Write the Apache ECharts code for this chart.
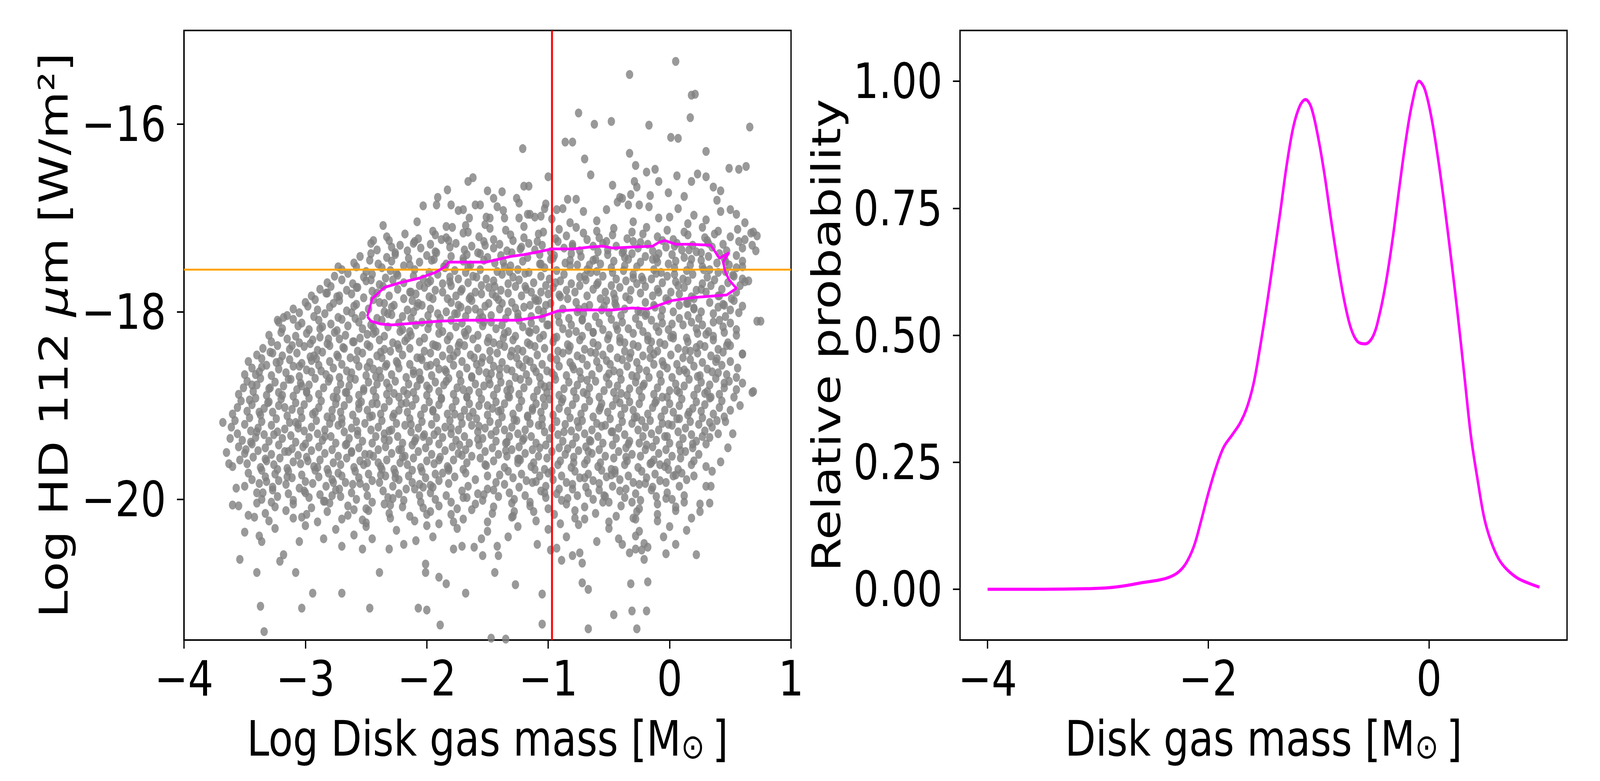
<!DOCTYPE html>
<html>
<head>
<meta charset="utf-8">
<script src="https://cdn.jsdelivr.net/npm/echarts@6/dist/echarts.min.js"></script>
<style>html,body{margin:0;padding:0;background:#fff;overflow:hidden}#wrap{width:5000px;height:2000px;transform-origin:0 0}#c{width:5000px;height:2000px}</style>
</head>
<body>
<div id="wrap"><div id="c"></div></div>
<script>
// ---- reference lines ----
const vLineX = -0.97;
const hLineY = -17.55;

// ---- scatter: sparse upper points (x, y) ----
const scatterTop = [
0.05,-15.33, -0.33,-15.47, 0.18,-15.69, 0.21,-15.68, 0.17,-15.93, -0.75,-15.88, -0.62,-16.0, -0.48,-15.97, -0.17,-16.01, 0.66,-16.03,
0.01,-16.14, 0.07,-16.15, -0.86,-16.19, -0.8,-16.19, -1.21,-16.26, -0.33,-16.31, 0.3,-16.29, -0.7,-16.37, -0.28,-16.44, 0.49,-16.47,
0.57,-16.48, 0.63,-16.45, -0.65,-16.54, -0.19,-16.51, -0.12,-16.48, 0.06,-16.55, 0.23,-16.53, 0.3,-16.56, -1.0,-16.56, -1.62,-16.57,
-1.66,-16.61, -0.09,-16.61, -0.29,-16.61, -0.27,-16.67, -0.47,-16.65, 0.18,-16.61, 0.36,-16.67, 0.42,-16.71, -1.2,-16.66, -1.16,-16.66,
-0.01,-16.73, -1.83,-16.7, 0.12,-16.77, -0.41,-16.78, -0.39,-16.79, -0.32,-16.75, 0.39,-16.81, -0.16,-16.76, -1.38,-16.72, -1.5,-16.71,
-1.45,-16.79, -1.26,-16.79, -1.24,-16.84, -1.91,-16.78, -1.92,-16.86, -2.03,-16.87, -1.8,-16.86, -1.6,-16.86, -1.56,-16.86, -1.42,-16.88,
-1.37,-16.92, -1.02,-16.85, -1.03,-16.9, -0.84,-16.8, -0.77,-16.8, -0.93,-16.91, -0.88,-16.9, -0.71,-16.93, -0.52,-16.91, -0.43,-16.83,
-0.34,-16.86, -0.25,-16.86, -0.17,-16.88, 0.07,-16.9, 0.2,-16.97, 0.5,-16.91, 0.55,-16.96, 0.42,-16.93, -0.09,-17.0, 0.0,-16.99,
-1.74,-16.92, -1.7,-16.91, -1.65,-17.0, -1.68,-17.08, -1.51,-16.99, -1.48,-17.0, -1.52,-17.07, -1.36,-17.0, -1.24,-17.0, -1.17,-16.96,
-1.15,-16.96, -1.11,-16.99, -1.06,-16.98, -0.97,-17.01, -2.08,-17.04, -1.84,-17.09, -2.36,-17.08, -2.44,-17.24, 0.3,-17.02, 0.62,-17.05,
-0.6,-17.03, -0.3,-17.04, 0.15,-17.06, -0.82,-17.05
];

// ---- scatter: dense core, read band by band (x, y) ----
const scatterCore = [
-1.95,-17.14, -1.79,-17.1, -1.66,-17.15, -1.48,-17.11, -1.35,-17.13, -1.2,-17.09, -1.04,-17.15, -0.91,-17.12, -0.77,-17.1, -0.6,-17.14, -0.46,-17.11, -0.31,-17.15, -0.19,-17.1, -0.02,-17.13, 0.12,-17.15, 0.27,-17.1, 0.4,-17.14, 0.56,-17.12, 0.67,-17.16,
-2.33,-17.2, -2.18,-17.17, -2.07,-17.22, -1.93,-17.18, -1.84,-17.21, -1.7,-17.16, -1.57,-17.2, -1.45,-17.23, -1.31,-17.18, -1.2,-17.21, -1.08,-17.17, -0.94,-17.22, -0.85,-17.19, -0.71,-17.16, -0.58,-17.21, -0.47,-17.18, -0.35,-17.22, -0.22,-17.17, -0.1,-17.2, 0.03,-17.23, 0.15,-17.18, 0.29,-17.21, 0.37,-17.17, 0.5,-17.2, 0.62,-17.23, 0.72,-17.19,
-2.46,-17.27, -2.31,-17.24, -2.22,-17.29, -2.1,-17.25, -1.97,-17.28, -1.88,-17.23, -1.76,-17.27, -1.63,-17.3, -1.53,-17.25, -1.4,-17.28, -1.29,-17.24, -1.16,-17.27, -1.05,-17.29, -0.92,-17.25, -0.8,-17.28, -0.68,-17.23, -0.55,-17.27, -0.44,-17.3, -0.3,-17.25, -0.18,-17.28, -0.06,-17.24, 0.06,-17.27, 0.19,-17.29, 0.31,-17.24, 0.44,-17.28, 0.57,-17.25, 0.68,-17.29,
-2.41,-17.34, -2.29,-17.31, -2.16,-17.35, -2.05,-17.32, -1.93,-17.36, -1.81,-17.31, -1.69,-17.34, -1.58,-17.37, -1.45,-17.32, -1.34,-17.35, -1.22,-17.31, -1.11,-17.34, -0.98,-17.36, -0.87,-17.32, -0.74,-17.35, -0.63,-17.3, -0.51,-17.34, -0.39,-17.37, -0.26,-17.32, -0.14,-17.35, -0.03,-17.31, 0.1,-17.34, 0.22,-17.36, 0.35,-17.31, 0.47,-17.35, 0.6,-17.32,
-2.55,-17.41, -2.46,-17.38, -2.33,-17.42, -2.26,-17.39, -2.15,-17.43, -2.0,-17.4, -1.92,-17.37, -1.8,-17.41, -1.7,-17.43, -1.56,-17.38, -1.5,-17.42, -1.39,-17.4, -1.3,-17.37, -1.17,-17.42, -1.07,-17.39, -0.96,-17.43, -0.81,-17.38, -0.73,-17.41, -0.61,-17.44, -0.51,-17.39, -0.37,-17.42, -0.31,-17.38, -0.2,-17.41, -0.11,-17.43, 0.02,-17.39, 0.12,-17.42, 0.26,-17.37, 0.32,-17.41, 0.45,-17.43, 0.55,-17.4,
-2.6,-17.48, -2.47,-17.45, -2.4,-17.49, -2.29,-17.46, -2.14,-17.5, -2.06,-17.47, -1.94,-17.44, -1.84,-17.49, -1.7,-17.46, -1.64,-17.5, -1.53,-17.45, -1.44,-17.48, -1.31,-17.51, -1.21,-17.46, -1.07,-17.49, -0.98,-17.44, -0.86,-17.48, -0.76,-17.5, -0.63,-17.45, -0.57,-17.49, -0.46,-17.46, -0.37,-17.51, -0.24,-17.47, -0.14,-17.44, -0.01,-17.49, 0.05,-17.46, 0.17,-17.5, 0.26,-17.45, 0.39,-17.48, 0.49,-17.5, 0.6,-17.46,
-2.7,-17.55, -2.58,-17.52, -2.5,-17.57, -2.37,-17.53, -2.3,-17.56, -2.19,-17.51, -2.1,-17.55, -1.98,-17.58, -1.85,-17.53, -1.77,-17.56, -1.66,-17.52, -1.56,-17.55, -1.42,-17.57, -1.36,-17.52, -1.25,-17.55, -1.16,-17.58, -1.03,-17.53, -0.93,-17.56, -0.82,-17.51, -0.68,-17.55, -0.6,-17.57, -0.48,-17.53, -0.38,-17.56, -0.27,-17.52, -0.13,-17.55, -0.07,-17.58, 0.04,-17.53, 0.14,-17.56, 0.27,-17.52, 0.33,-17.55, 0.46,-17.57, 0.55,-17.53,
-2.76,-17.62, -2.65,-17.59, -2.52,-17.63, -2.45,-17.6, -2.34,-17.64, -2.25,-17.59, -2.11,-17.62, -2.03,-17.65, -1.91,-17.6, -1.81,-17.63, -1.68,-17.58, -1.62,-17.62, -1.51,-17.65, -1.38,-17.6, -1.29,-17.63, -1.19,-17.59, -1.06,-17.62, -0.99,-17.65, -0.87,-17.6, -0.74,-17.63, -0.65,-17.58, -0.55,-17.62, -0.44,-17.65, -0.3,-17.6, -0.23,-17.63, -0.11,-17.59, -0.02,-17.62, 0.11,-17.65, 0.19,-17.6, 0.31,-17.63, 0.4,-17.58, 0.53,-17.62, 0.6,-17.65,
-2.82,-17.69, -2.7,-17.66, -2.61,-17.7, -2.5,-17.67, -2.39,-17.71, -2.28,-17.66, -2.19,-17.69, -2.06,-17.72, -1.97,-17.67, -1.87,-17.7, -1.74,-17.65, -1.66,-17.69, -1.55,-17.72, -1.45,-17.67, -1.33,-17.7, -1.24,-17.66, -1.12,-17.69, -1.02,-17.72, -0.9,-17.67, -0.81,-17.7, -0.69,-17.66, -0.59,-17.69, -0.48,-17.72, -0.36,-17.67, -0.27,-17.7, -0.15,-17.65, -0.06,-17.69, 0.07,-17.72, 0.15,-17.67, 0.27,-17.7, 0.37,-17.66, 0.48,-17.69, 0.58,-17.72, 0.65,-17.67,
-2.88,-17.76, -2.79,-17.73, -2.66,-17.77, -2.57,-17.74, -2.45,-17.78, -2.36,-17.73, -2.24,-17.76, -2.14,-17.79, -2.02,-17.74, -1.93,-17.77, -1.8,-17.72, -1.71,-17.76, -1.6,-17.79, -1.49,-17.74, -1.39,-17.77, -1.27,-17.73, -1.18,-17.76, -1.06,-17.79, -0.96,-17.74, -0.85,-17.77, -0.74,-17.72, -0.63,-17.76, -0.53,-17.79, -0.41,-17.74, -0.32,-17.77, -0.2,-17.73, -0.1,-17.76, 0.01,-17.79, 0.12,-17.74, 0.22,-17.77, 0.34,-17.72, 0.43,-17.76, 0.55,-17.79,
-2.95,-17.83, -2.83,-17.8, -2.74,-17.84, -2.62,-17.81, -2.52,-17.85, -2.41,-17.8, -2.31,-17.83, -2.19,-17.86, -2.09,-17.81, -1.98,-17.84, -1.87,-17.79, -1.76,-17.83, -1.65,-17.86, -1.55,-17.81, -1.43,-17.84, -1.33,-17.8, -1.22,-17.83, -1.11,-17.86, -1.0,-17.81, -0.9,-17.84, -0.78,-17.79, -0.68,-17.83, -0.57,-17.86, -0.46,-17.81, -0.36,-17.84, -0.24,-17.8, -0.14,-17.83, -0.03,-17.86, 0.08,-17.81, 0.18,-17.84, 0.3,-17.79, 0.4,-17.83, 0.51,-17.86,
-3.0,-17.9, -2.92,-17.87, -2.77,-17.91, -2.72,-17.88, -2.58,-17.92, -2.44,-17.87, -2.39,-17.9, -2.27,-17.93, -2.12,-17.88, -2.07,-17.91, -1.95,-17.86, -1.8,-17.9, -1.74,-17.93, -1.63,-17.88, -1.49,-17.91, -1.41,-17.87, -1.3,-17.9, -1.15,-17.93, -1.1,-17.88, -0.98,-17.91, -0.84,-17.86, -0.77,-17.9, -0.66,-17.93, -0.52,-17.88, -0.45,-17.91, -0.33,-17.87, -0.2,-17.9, -0.13,-17.93, -0.01,-17.88, 0.14,-17.91, 0.2,-17.86, 0.33,-17.9, 0.45,-17.93, 0.53,-17.88,
-3.1,-17.97, -2.98,-17.94, -2.9,-17.98, -2.8,-17.95, -2.66,-17.99, -2.6,-17.94, -2.48,-17.97, -2.35,-18.0, -2.29,-17.95, -2.16,-17.98, -2.04,-17.93, -1.97,-17.97, -1.84,-18.0, -1.72,-17.95, -1.66,-17.98, -1.52,-17.94, -1.4,-17.97, -1.33,-18.0, -1.2,-17.95, -1.08,-17.98, -1.02,-17.93, -0.88,-17.97, -0.76,-18.0, -0.7,-17.95, -0.56,-17.98, -0.44,-17.94, -0.37,-17.97, -0.24,-18.0, -0.12,-17.95, -0.06,-17.98, 0.08,-17.93, 0.2,-17.97, 0.26,-18.0, 0.4,-17.95, 0.5,-17.98, 0.6,-17.94,
-3.15,-18.04, -3.05,-18.01, -2.93,-18.05, -2.84,-18.02, -2.73,-18.06, -2.62,-18.01, -2.53,-18.04, -2.41,-18.07, -2.32,-18.02, -2.2,-18.05, -2.11,-18.0, -1.99,-18.04, -1.89,-18.07, -1.77,-18.02, -1.68,-18.05, -1.56,-18.01, -1.47,-18.04, -1.35,-18.07, -1.25,-18.02, -1.14,-18.05, -1.04,-18.0, -0.92,-18.04, -0.83,-18.07, -0.71,-18.02, -0.61,-18.05, -0.5,-18.01, -0.4,-18.04, -0.28,-18.07, -0.19,-18.02, -0.07,-18.05, 0.03,-18.0, 0.15,-18.04, 0.24,-18.07, 0.36,-18.02, 0.46,-18.05, 0.57,-18.01,
-3.22,-18.11, -3.1,-18.08, -3.03,-18.12, -2.89,-18.09, -2.79,-18.13, -2.7,-18.08, -2.56,-18.11, -2.46,-18.14, -2.37,-18.09, -2.23,-18.12, -2.13,-18.07, -2.04,-18.11, -1.9,-18.14, -1.8,-18.09, -1.71,-18.12, -1.57,-18.08, -1.47,-18.11, -1.38,-18.14, -1.24,-18.09, -1.14,-18.12, -1.05,-18.07, -0.91,-18.11, -0.81,-18.14, -0.72,-18.09, -0.58,-18.12, -0.48,-18.08, -0.39,-18.11, -0.25,-18.14, -0.15,-18.09, -0.06,-18.12, 0.08,-18.07, 0.18,-18.11, 0.27,-18.14, 0.41,-18.09, 0.5,-18.12, 0.72,-18.1,
-3.19,-18.18, -3.06,-18.15, -2.97,-18.19, -2.86,-18.16, -2.74,-18.2, -2.65,-18.15, -2.53,-18.18, -2.42,-18.21, -2.32,-18.16, -2.2,-18.19, -2.09,-18.14, -1.99,-18.18, -1.87,-18.21, -1.76,-18.16, -1.66,-18.19, -1.54,-18.15, -1.43,-18.18, -1.33,-18.21, -1.21,-18.16, -1.1,-18.19, -1.0,-18.14, -0.88,-18.18, -0.77,-18.21, -0.67,-18.16, -0.55,-18.19, -0.44,-18.15, -0.34,-18.18, -0.22,-18.21, -0.11,-18.16, -0.01,-18.19, 0.11,-18.14, 0.22,-18.18, 0.32,-18.21, 0.44,-18.16, 0.55,-18.19,
-3.3,-18.25, -3.2,-18.22, -3.08,-18.26, -2.99,-18.23, -2.88,-18.27, -2.76,-18.22, -2.67,-18.25, -2.55,-18.28, -2.44,-18.23, -2.35,-18.26, -2.22,-18.21, -2.13,-18.25, -2.02,-18.28, -1.9,-18.23, -1.81,-18.26, -1.69,-18.22, -1.58,-18.25, -1.49,-18.28, -1.36,-18.23, -1.27,-18.26, -1.16,-18.21, -1.04,-18.25, -0.95,-18.28, -0.83,-18.23, -0.72,-18.26, -0.63,-18.22, -0.5,-18.25, -0.41,-18.28, -0.3,-18.23, -0.18,-18.26, -0.09,-18.21, 0.03,-18.25, 0.14,-18.28, 0.23,-18.23, 0.36,-18.26, 0.45,-18.22, 0.55,-18.25,
-3.28,-18.32, -3.15,-18.29, -3.05,-18.33, -2.94,-18.3, -2.82,-18.34, -2.72,-18.29, -2.61,-18.32, -2.49,-18.35, -2.39,-18.3, -2.28,-18.33, -2.16,-18.28, -2.06,-18.32, -1.95,-18.35, -1.83,-18.3, -1.73,-18.33, -1.62,-18.29, -1.5,-18.32, -1.4,-18.35, -1.29,-18.3, -1.17,-18.33, -1.07,-18.28, -0.96,-18.32, -0.84,-18.35, -0.74,-18.3, -0.63,-18.33, -0.51,-18.29, -0.41,-18.32, -0.3,-18.35, -0.18,-18.3, -0.08,-18.33, 0.03,-18.28, 0.15,-18.32, 0.25,-18.35, 0.36,-18.3, 0.48,-18.33,
-3.35,-18.39, -3.23,-18.36, -3.13,-18.4, -3.01,-18.37, -2.9,-18.41, -2.8,-18.36, -2.68,-18.39, -2.57,-18.42, -2.47,-18.37, -2.35,-18.4, -2.24,-18.35, -2.14,-18.39, -2.02,-18.42, -1.91,-18.37, -1.81,-18.4, -1.69,-18.36, -1.58,-18.39, -1.48,-18.42, -1.36,-18.37, -1.25,-18.4, -1.15,-18.35, -1.03,-18.39, -0.92,-18.42, -0.82,-18.37, -0.7,-18.4, -0.59,-18.36, -0.49,-18.39, -0.37,-18.42, -0.26,-18.37, -0.16,-18.4, -0.04,-18.35, 0.07,-18.39, 0.17,-18.42, 0.29,-18.37, 0.4,-18.4, 0.5,-18.36,
-3.4,-18.46, -3.29,-18.43, -3.19,-18.47, -3.07,-18.44, -2.96,-18.48, -2.86,-18.43, -2.74,-18.46, -2.63,-18.49, -2.53,-18.44, -2.41,-18.47, -2.3,-18.42, -2.2,-18.46, -2.08,-18.49, -1.97,-18.44, -1.87,-18.47, -1.75,-18.43, -1.64,-18.46, -1.54,-18.49, -1.42,-18.44, -1.31,-18.47, -1.21,-18.42, -1.09,-18.46, -0.98,-18.49, -0.88,-18.44, -0.76,-18.47, -0.65,-18.43, -0.55,-18.46, -0.43,-18.49, -0.32,-18.44, -0.22,-18.47, -0.1,-18.42, 0.01,-18.46, 0.11,-18.49, 0.23,-18.44, 0.34,-18.47, 0.44,-18.43, 0.6,-18.45,
-3.47,-18.53, -3.36,-18.5, -3.24,-18.54, -3.13,-18.51, -3.03,-18.55, -2.91,-18.5, -2.8,-18.53, -2.7,-18.56, -2.58,-18.51, -2.47,-18.54, -2.37,-18.49, -2.25,-18.53, -2.14,-18.56, -2.04,-18.51, -1.92,-18.54, -1.81,-18.5, -1.71,-18.53, -1.59,-18.56, -1.48,-18.51, -1.38,-18.54, -1.26,-18.49, -1.15,-18.53, -1.05,-18.56, -0.93,-18.51, -0.82,-18.54, -0.72,-18.5, -0.6,-18.53, -0.49,-18.56, -0.39,-18.51, -0.27,-18.54, -0.16,-18.49, -0.06,-18.53, 0.06,-18.56, 0.17,-18.51, 0.27,-18.54, 0.39,-18.5, 0.5,-18.53,
-3.44,-18.6, -3.32,-18.57, -3.22,-18.61, -3.1,-18.58, -2.99,-18.62, -2.89,-18.57, -2.77,-18.6, -2.66,-18.63, -2.56,-18.58, -2.44,-18.61, -2.33,-18.56, -2.23,-18.6, -2.11,-18.63, -2.0,-18.58, -1.9,-18.61, -1.78,-18.57, -1.67,-18.6, -1.57,-18.63, -1.45,-18.58, -1.34,-18.61, -1.24,-18.56, -1.12,-18.6, -1.01,-18.63, -0.91,-18.58, -0.79,-18.61, -0.68,-18.57, -0.58,-18.6, -0.46,-18.63, -0.35,-18.58, -0.25,-18.61, -0.13,-18.56, -0.02,-18.6, 0.08,-18.63, 0.2,-18.58, 0.31,-18.61, 0.43,-18.57,
-3.5,-18.67, -3.38,-18.64, -3.28,-18.68, -3.16,-18.65, -3.05,-18.69, -2.95,-18.64, -2.83,-18.67, -2.72,-18.7, -2.62,-18.65, -2.5,-18.68, -2.39,-18.63, -2.29,-18.67, -2.17,-18.7, -2.06,-18.65, -1.96,-18.68, -1.84,-18.64, -1.73,-18.67, -1.63,-18.7, -1.51,-18.65, -1.4,-18.68, -1.3,-18.63, -1.18,-18.67, -1.07,-18.7, -0.97,-18.65, -0.85,-18.68, -0.74,-18.64, -0.64,-18.67, -0.52,-18.7, -0.41,-18.65, -0.31,-18.68, -0.19,-18.63, -0.08,-18.67, 0.02,-18.7, 0.14,-18.65, 0.25,-18.68, 0.35,-18.64, 0.47,-18.67, 0.55,-18.7,
-3.48,-18.74, -3.37,-18.71, -3.25,-18.75, -3.14,-18.72, -3.04,-18.76, -2.92,-18.71, -2.81,-18.74, -2.71,-18.77, -2.59,-18.72, -2.48,-18.75, -2.38,-18.7, -2.26,-18.74, -2.15,-18.77, -2.05,-18.72, -1.93,-18.75, -1.82,-18.71, -1.72,-18.74, -1.6,-18.77, -1.49,-18.72, -1.39,-18.75, -1.27,-18.7, -1.16,-18.74, -1.06,-18.77, -0.94,-18.72, -0.83,-18.75, -0.73,-18.71, -0.61,-18.74, -0.5,-18.77, -0.4,-18.72, -0.28,-18.75, -0.17,-18.7, -0.07,-18.74, 0.05,-18.77, 0.16,-18.72, 0.26,-18.75, 0.38,-18.71, 0.49,-18.74, 0.6,-18.76,
-3.51,-18.81, -3.4,-18.78, -3.3,-18.82, -3.18,-18.79, -3.07,-18.83, -2.97,-18.78, -2.85,-18.81, -2.74,-18.84, -2.64,-18.79, -2.52,-18.82, -2.41,-18.77, -2.31,-18.81, -2.19,-18.84, -2.08,-18.79, -1.98,-18.82, -1.86,-18.78, -1.75,-18.81, -1.65,-18.84, -1.53,-18.79, -1.42,-18.82, -1.32,-18.77, -1.2,-18.81, -1.09,-18.84, -0.99,-18.79, -0.87,-18.82, -0.76,-18.78, -0.66,-18.81, -0.54,-18.84, -0.43,-18.79, -0.33,-18.82, -0.21,-18.77, -0.1,-18.81, 0.0,-18.84, 0.12,-18.79, 0.23,-18.82, 0.33,-18.78, 0.45,-18.81, 0.55,-18.83,
-3.55,-18.88, -3.43,-18.85, -3.32,-18.89, -3.22,-18.86, -3.1,-18.9, -2.99,-18.85, -2.89,-18.88, -2.77,-18.91, -2.66,-18.86, -2.56,-18.89, -2.44,-18.84, -2.33,-18.88, -2.23,-18.91, -2.11,-18.86, -2.0,-18.89, -1.9,-18.85, -1.78,-18.88, -1.67,-18.91, -1.57,-18.86, -1.45,-18.89, -1.34,-18.84, -1.24,-18.88, -1.12,-18.91, -1.01,-18.86, -0.91,-18.89, -0.79,-18.85, -0.68,-18.88, -0.58,-18.91, -0.46,-18.86, -0.35,-18.89, -0.25,-18.84, -0.13,-18.88, -0.02,-18.91, 0.08,-18.86, 0.2,-18.89, 0.31,-18.85, 0.41,-18.88, 0.53,-18.91, 0.68,-18.86,
-3.53,-18.95, -3.41,-18.92, -3.3,-18.96, -3.2,-18.93, -3.08,-18.97, -2.97,-18.92, -2.87,-18.95, -2.75,-18.98, -2.64,-18.93, -2.54,-18.96, -2.42,-18.91, -2.31,-18.95, -2.21,-18.98, -2.09,-18.93, -1.98,-18.96, -1.88,-18.92, -1.76,-18.95, -1.65,-18.98, -1.55,-18.93, -1.43,-18.96, -1.32,-18.91, -1.22,-18.95, -1.1,-18.98, -0.99,-18.93, -0.89,-18.96, -0.77,-18.92, -0.66,-18.95, -0.56,-18.98, -0.44,-18.93, -0.33,-18.96, -0.23,-18.91, -0.11,-18.95, 0.0,-18.98, 0.1,-18.93, 0.22,-18.96, 0.33,-18.92, 0.43,-18.95,
-3.56,-19.02, -3.44,-18.99, -3.34,-19.03, -3.22,-19.0, -3.11,-19.04, -3.01,-18.99, -2.89,-19.02, -2.78,-19.05, -2.68,-19.0, -2.56,-19.03, -2.45,-18.98, -2.35,-19.02, -2.23,-19.05, -2.12,-19.0, -2.02,-19.03, -1.9,-18.99, -1.79,-19.02, -1.69,-19.05, -1.57,-19.0, -1.46,-19.03, -1.36,-18.98, -1.24,-19.02, -1.13,-19.05, -1.03,-19.0, -0.91,-19.03, -0.8,-18.99, -0.7,-19.02, -0.58,-19.05, -0.47,-19.0, -0.37,-19.03, -0.25,-18.98, -0.14,-19.02, -0.04,-19.05, 0.08,-19.0, 0.19,-19.03, 0.29,-18.99, 0.41,-19.02, 0.58,-19.0,
-3.6,-19.09, -3.48,-19.06, -3.37,-19.1, -3.27,-19.07, -3.15,-19.11, -3.04,-19.06, -2.94,-19.09, -2.82,-19.12, -2.71,-19.07, -2.61,-19.1, -2.49,-19.05, -2.38,-19.09, -2.28,-19.12, -2.16,-19.07, -2.05,-19.1, -1.95,-19.06, -1.83,-19.09, -1.72,-19.12, -1.62,-19.07, -1.5,-19.1, -1.39,-19.05, -1.29,-19.09, -1.17,-19.12, -1.06,-19.07, -0.96,-19.1, -0.84,-19.06, -0.73,-19.09, -0.63,-19.12, -0.51,-19.07, -0.4,-19.1, -0.3,-19.05, -0.18,-19.09, -0.07,-19.12, 0.03,-19.07, 0.15,-19.1, 0.26,-19.06, 0.36,-19.09, 0.45,-19.12,
-3.58,-19.16, -3.46,-19.13, -3.36,-19.17, -3.24,-19.14, -3.13,-19.18, -3.03,-19.13, -2.91,-19.16, -2.8,-19.19, -2.7,-19.14, -2.58,-19.17, -2.47,-19.12, -2.37,-19.16, -2.25,-19.19, -2.14,-19.14, -2.04,-19.17, -1.92,-19.13, -1.81,-19.16, -1.71,-19.19, -1.59,-19.14, -1.48,-19.17, -1.38,-19.12, -1.26,-19.16, -1.15,-19.19, -1.05,-19.14, -0.93,-19.17, -0.82,-19.13, -0.72,-19.16, -0.6,-19.19, -0.49,-19.14, -0.39,-19.17, -0.27,-19.12, -0.16,-19.16, -0.06,-19.19, 0.06,-19.14, 0.17,-19.17, 0.27,-19.13, 0.39,-19.16,
-3.61,-19.23, -3.5,-19.2, -3.39,-19.24, -3.28,-19.21, -3.17,-19.25, -3.06,-19.2, -2.95,-19.23, -2.84,-19.26, -2.73,-19.21, -2.62,-19.24, -2.51,-19.19, -2.4,-19.23, -2.29,-19.26, -2.18,-19.21, -2.07,-19.24, -1.96,-19.2, -1.85,-19.23, -1.74,-19.26, -1.63,-19.21, -1.52,-19.24, -1.41,-19.19, -1.3,-19.23, -1.19,-19.26, -1.08,-19.21, -0.97,-19.24, -0.86,-19.2, -0.75,-19.23, -0.64,-19.26, -0.53,-19.21, -0.42,-19.24, -0.31,-19.19, -0.2,-19.23, -0.09,-19.26, 0.02,-19.21, 0.13,-19.24, 0.24,-19.2, 0.35,-19.23,
-3.56,-19.3, -3.45,-19.27, -3.34,-19.31, -3.23,-19.28, -3.12,-19.32, -3.01,-19.27, -2.9,-19.3, -2.79,-19.33, -2.68,-19.28, -2.57,-19.31, -2.46,-19.26, -2.35,-19.3, -2.24,-19.33, -2.13,-19.28, -2.02,-19.31, -1.91,-19.27, -1.8,-19.3, -1.69,-19.33, -1.58,-19.28, -1.47,-19.31, -1.36,-19.26, -1.25,-19.3, -1.14,-19.33, -1.03,-19.28, -0.92,-19.31, -0.81,-19.27, -0.7,-19.3, -0.59,-19.33, -0.48,-19.28, -0.37,-19.31, -0.26,-19.26, -0.15,-19.3, -0.04,-19.33, 0.07,-19.28, 0.18,-19.31, 0.29,-19.27, 0.4,-19.3,
-3.52,-19.37, -3.41,-19.34, -3.3,-19.38, -3.19,-19.35, -3.08,-19.39, -2.97,-19.34, -2.86,-19.37, -2.75,-19.4, -2.64,-19.35, -2.53,-19.38, -2.42,-19.33, -2.31,-19.37, -2.2,-19.4, -2.09,-19.35, -1.98,-19.38, -1.87,-19.34, -1.76,-19.37, -1.65,-19.4, -1.54,-19.35, -1.43,-19.38, -1.32,-19.33, -1.21,-19.37, -1.1,-19.4, -0.99,-19.35, -0.88,-19.38, -0.77,-19.34, -0.66,-19.37, -0.55,-19.4, -0.44,-19.35, -0.33,-19.38, -0.22,-19.33, -0.11,-19.37, 0.0,-19.4, 0.11,-19.35, 0.22,-19.38, 0.33,-19.34,
-3.55,-19.44, -3.44,-19.41, -3.33,-19.45, -3.22,-19.42, -3.11,-19.46, -3.0,-19.41, -2.89,-19.44, -2.78,-19.47, -2.67,-19.42, -2.56,-19.45, -2.45,-19.4, -2.34,-19.44, -2.23,-19.47, -2.12,-19.42, -2.01,-19.45, -1.9,-19.41, -1.79,-19.44, -1.68,-19.47, -1.57,-19.42, -1.46,-19.45, -1.35,-19.4, -1.24,-19.44, -1.13,-19.47, -1.02,-19.42, -0.91,-19.45, -0.8,-19.41, -0.69,-19.44, -0.58,-19.47, -0.47,-19.42, -0.36,-19.45, -0.25,-19.4, -0.14,-19.44, -0.03,-19.47, 0.08,-19.42, 0.19,-19.45, 0.3,-19.41,
-3.5,-19.51, -3.39,-19.48, -3.28,-19.52, -3.17,-19.49, -3.06,-19.53, -2.95,-19.48, -2.84,-19.51, -2.73,-19.54, -2.62,-19.49, -2.51,-19.52, -2.4,-19.47, -2.29,-19.51, -2.18,-19.54, -2.07,-19.49, -1.96,-19.52, -1.85,-19.48, -1.74,-19.51, -1.63,-19.54, -1.52,-19.49, -1.41,-19.52, -1.3,-19.47, -1.19,-19.51, -1.08,-19.54, -0.97,-19.49, -0.86,-19.52, -0.75,-19.48, -0.64,-19.51, -0.53,-19.54, -0.42,-19.49, -0.31,-19.52, -0.2,-19.47, -0.09,-19.51, 0.02,-19.54, 0.13,-19.49, 0.24,-19.52,
-3.54,-19.58, -3.43,-19.55, -3.32,-19.59, -3.21,-19.56, -3.1,-19.6, -2.99,-19.55, -2.88,-19.58, -2.77,-19.61, -2.66,-19.56, -2.55,-19.59, -2.44,-19.54, -2.33,-19.58, -2.22,-19.61, -2.11,-19.56, -2.0,-19.59, -1.89,-19.55, -1.78,-19.58, -1.67,-19.61, -1.56,-19.56, -1.45,-19.59, -1.34,-19.54, -1.23,-19.58, -1.12,-19.61, -1.01,-19.56, -0.9,-19.59, -0.79,-19.55, -0.68,-19.58, -0.57,-19.61, -0.46,-19.56, -0.35,-19.59, -0.24,-19.54, -0.13,-19.58, -0.02,-19.61, 0.09,-19.56, 0.2,-19.59,
-3.6,-19.65, -3.48,-19.62, -3.37,-19.66, -3.26,-19.63, -3.15,-19.67, -3.04,-19.62, -2.93,-19.65, -2.82,-19.68, -2.71,-19.63, -2.6,-19.66, -2.49,-19.61, -2.38,-19.65, -2.27,-19.68, -2.16,-19.63, -2.05,-19.66, -1.94,-19.62, -1.83,-19.65, -1.7,-19.68, -1.52,-19.63, -1.36,-19.66, -1.25,-19.61, -1.14,-19.65, -1.03,-19.68, -0.92,-19.63, -0.81,-19.66, -0.7,-19.62, -0.59,-19.65, -0.48,-19.68, -0.37,-19.63, -0.26,-19.66, -0.15,-19.61, -0.04,-19.65, 0.07,-19.68, 0.18,-19.63, 0.3,-19.65,
-3.47,-19.72, -3.36,-19.69, -3.25,-19.73, -3.14,-19.7, -3.03,-19.74, -2.92,-19.69, -2.81,-19.72, -2.7,-19.75, -2.59,-19.7, -2.48,-19.73, -2.37,-19.68, -2.26,-19.72, -2.15,-19.75, -2.04,-19.7, -1.93,-19.73, -1.82,-19.69, -1.68,-19.72, -1.5,-19.75, -1.33,-19.7, -1.22,-19.73, -1.11,-19.68, -1.0,-19.72, -0.89,-19.75, -0.78,-19.7, -0.67,-19.73, -0.56,-19.69, -0.45,-19.72, -0.34,-19.75, -0.23,-19.7, -0.12,-19.73, -0.01,-19.68, 0.1,-19.72, 0.2,-19.75,
-3.44,-19.79, -3.33,-19.76, -3.22,-19.8, -3.11,-19.77, -3.0,-19.81, -2.89,-19.76, -2.78,-19.79, -2.67,-19.82, -2.56,-19.77, -2.45,-19.8, -2.34,-19.75, -2.23,-19.79, -2.12,-19.82, -2.01,-19.77, -1.9,-19.8, -1.77,-19.76, -1.6,-19.79, -1.43,-19.82, -1.29,-19.77, -1.18,-19.8, -1.07,-19.75, -0.96,-19.79, -0.85,-19.82, -0.74,-19.77, -0.63,-19.8, -0.52,-19.76, -0.41,-19.79, -0.3,-19.82, -0.19,-19.77, -0.08,-19.8, 0.03,-19.75, 0.14,-19.79,
-3.5,-19.86, -3.38,-19.83, -3.27,-19.87, -3.16,-19.84, -3.05,-19.88, -2.94,-19.83, -2.83,-19.86, -2.72,-19.89, -2.61,-19.84, -2.5,-19.87, -2.39,-19.82, -2.28,-19.86, -2.17,-19.89, -2.06,-19.84, -1.95,-19.87, -1.82,-19.83, -1.66,-19.86, -1.5,-19.89, -1.36,-19.84, -1.24,-19.87, -1.13,-19.82, -1.02,-19.86, -0.91,-19.89, -0.8,-19.84, -0.69,-19.87, -0.58,-19.83, -0.47,-19.86, -0.36,-19.89, -0.25,-19.84, -0.14,-19.87, -0.03,-19.82, 0.08,-19.86, 0.3,-19.86,
-3.4,-19.93, -3.27,-19.9, -3.14,-19.94, -3.01,-19.91, -2.88,-19.95, -2.75,-19.9, -2.62,-19.93, -2.49,-19.96, -2.36,-19.91, -2.23,-19.94, -2.1,-19.89, -1.97,-19.93, -1.84,-19.96, -1.71,-19.91, -1.58,-19.94, -1.45,-19.9, -1.32,-19.93, -1.19,-19.96, -1.06,-19.91, -0.93,-19.94, -0.8,-19.89, -0.67,-19.93, -0.54,-19.96, -0.41,-19.91, -0.28,-19.94, -0.15,-19.9, -0.02,-19.93, 0.12,-19.96,
-3.36,-20.0, -3.23,-19.97, -3.1,-20.01, -2.97,-19.98, -2.84,-20.02, -2.71,-19.97, -2.58,-20.0, -2.45,-20.03, -2.32,-19.98, -2.19,-20.01, -2.06,-19.96, -1.93,-20.0, -1.8,-20.03, -1.67,-19.98, -1.54,-20.01, -1.41,-19.97, -1.28,-20.0, -1.15,-20.03, -1.02,-19.98, -0.89,-20.01, -0.76,-19.96, -0.63,-20.0, -0.5,-20.03, -0.37,-19.98, -0.24,-20.01, -0.11,-19.97, 0.02,-20.0, 0.12,-20.03,
-3.55,-20.07, -3.4,-20.04, -3.25,-20.08, -3.1,-20.05, -2.95,-20.09, -2.8,-20.04, -2.65,-20.07, -2.5,-20.1, -2.35,-20.05, -2.2,-20.08, -2.05,-20.03, -1.9,-20.07, -1.75,-20.1, -1.6,-20.05, -1.45,-20.08, -1.3,-20.04, -1.15,-20.07, -1.0,-20.1, -0.85,-20.05, -0.7,-20.08, -0.55,-20.03, -0.4,-20.07, -0.25,-20.1, -0.1,-20.05, 0.05,-20.08, 0.25,-20.05,
-3.33,-20.15, -3.16,-20.12, -2.99,-20.16, -2.82,-20.13, -2.65,-20.17, -2.48,-20.12, -2.31,-20.15, -2.14,-20.18, -1.97,-20.13, -1.8,-20.16, -1.63,-20.11, -1.46,-20.15, -1.29,-20.18, -1.12,-20.13, -0.95,-20.16, -0.78,-20.12, -0.61,-20.15, -0.44,-20.18, -0.27,-20.13, -0.1,-20.16, 0.05,-20.12,
-3.3,-20.23, -3.1,-20.2, -2.9,-20.24, -2.7,-20.21, -2.5,-20.25, -2.3,-20.2, -2.1,-20.23, -1.9,-20.26, -1.7,-20.21, -1.5,-20.24, -1.3,-20.19, -1.1,-20.23, -0.9,-20.26, -0.7,-20.21, -0.5,-20.24, -0.3,-20.2, -0.1,-20.23,
-3.25,-20.31, -3.0,-20.28, -2.75,-20.32, -2.5,-20.29, -2.25,-20.33, -2.0,-20.28, -1.75,-20.31, -1.5,-20.34, -1.25,-20.29, -1.0,-20.32, -0.75,-20.27, -0.5,-20.31, -0.25,-20.34, 0.0,-20.29
];

// ---- scatter: extra points in the densest parts (x, y) ----
const scatterDense = [
-2.93,-18.47, -2.87,-18.63, -2.81,-18.29, -2.78,-19.13, -2.74,-18.92, -2.69,-18.38, -2.66,-19.41, -2.63,-18.71, -2.59,-18.07, -2.57,-19.27,
-2.52,-18.84, -2.49,-18.59, -2.47,-19.52, -2.44,-18.17, -2.41,-18.98, -2.38,-18.43, -2.35,-19.36, -2.33,-18.76, -2.29,-18.03, -2.27,-19.09,
-2.24,-18.55, -2.21,-19.47, -2.18,-18.31, -2.16,-18.88, -2.13,-19.2, -2.11,-18.66, -2.08,-17.94, -2.05,-18.49, -2.03,-19.33, -2.0,-18.79,
-1.98,-18.12, -1.95,-19.05, -1.93,-18.36, -1.9,-19.58, -1.88,-18.93, -1.85,-18.62, -1.83,-17.86, -1.8,-19.24, -1.78,-18.47, -1.75,-18.02,
-1.73,-19.42, -1.7,-18.83, -1.68,-18.25, -1.65,-19.12, -1.63,-18.69, -1.6,-17.97, -1.58,-19.36, -1.55,-18.54, -1.53,-18.11, -1.5,-19.0,
-1.48,-18.77, -1.45,-18.33, -1.43,-19.27, -1.4,-18.61, -1.38,-17.91, -1.35,-19.48, -1.33,-18.9, -1.3,-18.42, -1.28,-19.15, -1.25,-18.06,
-1.23,-18.72, -1.2,-19.35, -1.18,-18.51, -1.15,-18.22, -1.13,-19.03, -1.1,-18.64, -1.08,-17.88, -1.05,-19.21, -1.03,-18.8,
-3.12,-18.72, -3.08,-19.18, -3.05,-18.58, -3.02,-19.44, -2.99,-18.86, -2.96,-18.34, -3.17,-19.02, -3.21,-18.53, -3.26,-19.31, -3.29,-18.81,
-3.33,-19.57, -3.38,-19.07, -3.41,-18.67, -3.45,-19.39, -2.9,-19.66, -2.73,-19.72, -2.55,-19.83, -2.4,-19.61, -2.26,-19.77, -2.12,-19.69,
-1.97,-19.85, -1.82,-19.67, -3.15,-19.76, -3.0,-19.93, -2.85,-20.02, -3.35,-19.93, -2.6,-20.11, -2.3,-20.06, -2.0,-20.16, -1.7,-19.98,
-2.72,-17.83, -2.58,-17.74, -2.46,-17.66, -2.35,-17.91, -2.24,-17.61, -2.13,-17.79, -1.99,-17.69, -1.86,-17.52, -1.72,-17.78, -1.59,-17.63,
-1.46,-17.81, -1.32,-17.57, -1.19,-17.73, -1.06,-17.49, -0.94,-17.69, -0.82,-17.45, -0.7,-17.62, -0.59,-17.36, -0.47,-17.58, -0.34,-17.44,
-0.22,-17.66, -0.09,-17.38, 0.04,-17.6, 0.16,-17.34, 0.28,-17.55, 0.41,-17.38, 0.52,-17.61,
-0.93,-18.27, -0.88,-18.93, -0.84,-19.46, -0.8,-18.58, -0.76,-19.17, -0.72,-18.08, -0.68,-18.73, -0.65,-19.38, -0.61,-18.44, -0.57,-19.02,
-0.54,-17.94, -0.5,-18.66, -0.47,-19.28, -0.43,-18.19, -0.4,-18.87, -0.36,-19.55, -0.33,-18.49, -0.29,-19.13, -0.26,-17.99, -0.22,-18.79,
-0.19,-19.42, -0.15,-18.32, -0.12,-18.97, -0.08,-19.63, -0.05,-18.57, -0.01,-19.2, 0.02,-18.13, 0.06,-18.84, 0.09,-19.48, 0.13,-18.41,
0.16,-19.07, 0.2,-17.96, 0.23,-18.69, 0.27,-19.33, 0.3,-18.24, 0.34,-18.91, 0.38,-18.53, 0.41,-17.83, 0.45,-18.76, -0.97,-19.7,
-0.7,-19.77, -0.45,-19.69, -0.2,-19.83, 0.05,-19.74, -0.58,-19.9, -0.31,-20.03, -0.84,-19.99, -1.1,-19.81, -1.25,-19.57, -1.4,-19.74
];
const scatterDense2 = [
-3.31,-18.97, -3.27,-18.44, -3.23,-19.68, -3.19,-18.89, -3.14,-19.49, -3.11,-18.36, -3.06,-19.24, -3.03,-18.79, -2.98,-19.59, -2.95,-18.52,
-2.92,-19.07, -2.88,-18.18, -2.84,-19.33, -2.8,-18.71, -2.77,-19.82, -2.73,-18.48, -2.7,-19.19, -2.67,-18.86, -2.62,-19.5, -2.6,-18.32,
-2.56,-18.98, -2.52,-19.63, -2.49,-18.24, -2.45,-19.11, -2.42,-18.69, -2.38,-19.74, -2.34,-18.58, -2.31,-19.27, -2.27,-18.87, -2.23,-18.39,
-2.2,-19.55, -2.17,-18.97, -2.14,-18.21, -2.1,-19.38, -2.06,-18.72, -2.03,-19.87, -3.44,-18.78, -3.4,-19.28, -3.36,-18.59, -3.32,-19.81,
-3.49,-19.47, -3.46,-18.94,
-1.97,-18.57, -1.94,-19.31, -1.91,-18.02, -1.87,-19.72, -1.84,-18.74, -1.81,-17.68, -1.77,-19.09, -1.74,-18.36, -1.71,-19.53, -1.67,-18.91,
-1.64,-17.84, -1.61,-18.49, -1.57,-19.22, -1.54,-18.06, -1.51,-19.64, -1.47,-18.66, -1.44,-17.73, -1.41,-19.06, -1.37,-18.28, -1.34,-19.39,
-1.31,-18.83, -1.27,-17.96, -1.24,-19.57, -1.21,-18.59, -1.17,-19.11, -1.14,-17.79, -1.11,-18.37, -1.07,-19.45, -1.04,-18.92, -1.01,-18.14,
-0.95,-18.68, -0.91,-17.82, -0.87,-19.28, -0.83,-18.41, -0.79,-19.61, -0.75,-17.97, -0.71,-18.86, -0.67,-19.49, -0.63,-18.22, -0.6,-17.71,
-0.56,-19.22, -0.52,-18.52, -0.48,-19.74, -0.45,-17.86, -0.41,-18.97, -0.37,-18.33, -0.34,-19.41, -0.3,-17.64, -0.27,-18.69, -0.23,-19.16,
-0.2,-18.04, -0.16,-19.62, -0.13,-18.45, -0.09,-17.79, -0.06,-18.91, -0.02,-19.33, 0.01,-18.27, 0.05,-17.68, 0.08,-19.14, 0.12,-18.62,
0.15,-17.91, 0.19,-19.41, 0.22,-18.38, 0.26,-17.76, 0.29,-18.87, 0.33,-19.18, 0.36,-18.11, 0.4,-18.65, 0.44,-17.92, 0.47,-18.36,
-2.26,-17.37, -2.11,-17.27, -1.96,-17.45, -1.82,-17.24, -1.67,-17.39, -1.52,-17.29, -1.37,-17.47, -1.23,-17.33, -1.09,-17.25, -0.95,-17.4,
-0.8,-17.3, -0.66,-17.5, -0.52,-17.25, -0.38,-17.35, -0.24,-17.26, -0.1,-17.47, 0.04,-17.3, 0.18,-17.44, 0.32,-17.27, 0.46,-17.46,
-3.28,-20.03, -3.03,-20.19, -2.78,-19.96, -2.53,-20.22, -2.28,-19.99, -2.03,-20.09, -1.78,-20.24, -1.53,-19.95, -1.28,-20.13, -1.03,-19.93,
-0.78,-20.2, -0.53,-19.97, -0.28,-20.21, -0.03,-19.99, 0.18,-20.2
];

// ---- scatter: sparse lower points and edges (x, y) ----
const scatterBottom = [
-3.54,-20.64, -3.4,-20.78, -3.37,-21.14, -3.34,-21.41, -3.21,-20.66, -3.18,-20.59, -3.08,-20.78, -2.94,-21.0, -3.03,-21.16, -2.7,-21.0,
-2.53,-20.53, -2.39,-20.78, -2.47,-21.16, -2.31,-20.53, -2.19,-20.48, -2.09,-20.44, -2.01,-20.69, -2.01,-20.78, -2.07,-21.16, -2.0,-21.18,
-1.9,-20.83, -1.84,-20.9, -1.89,-21.34, -1.78,-20.53, -1.71,-20.5, -1.68,-21.0, -1.61,-20.51, -1.54,-20.6, -1.44,-20.78, -1.42,-20.5,
-1.41,-20.6, -1.33,-20.4, -1.27,-20.91, -1.47,-21.48, -1.35,-21.49, -1.09,-20.48, -1.05,-21.01, -1.05,-21.33, -0.98,-20.54, -0.93,-20.52,
-0.89,-20.65, -0.8,-20.6, -0.74,-20.57, -0.72,-20.68, -0.72,-20.89, -0.67,-20.96, -0.67,-21.38, -0.46,-21.23, -0.42,-20.42, -0.39,-20.48,
-0.31,-21.19, -0.19,-21.19, -0.27,-21.38, -0.32,-20.9, -0.18,-20.88, -0.33,-20.57, -0.28,-20.53, -0.23,-20.54, -0.28,-20.39, -0.21,-20.47,
-0.18,-20.51, -0.21,-20.64, -0.03,-20.58, 0.14,-20.33, 0.22,-20.59, 0.25,-20.13, 0.34,-19.86, 0.33,-20.04,
-3.05,-20.45, -2.85,-20.42, -2.7,-20.5, -3.5,-20.35, -3.36,-20.45, -2.6,-20.38, -2.45,-20.42, -1.95,-20.4, -1.55,-20.42, -0.6,-20.45,
-0.85,-20.4, -0.05,-20.4, 0.05,-20.48
];
const scatterEdges = [
0.75,-18.1, 0.69,-18.85, 0.71,-17.35, 0.69,-17.15, 0.52,-19.3, 0.46,-19.17, 0.6,-18.45, 0.5,-19.05, 0.62,-17.68, 0.6,-17.52,
0.56,-18.6, 0.48,-19.45, 0.42,-19.6, 0.35,-19.7, -3.68,-19.18, -3.63,-19.62, -3.57,-19.88, -3.6,-20.06, -3.47,-20.17, -3.42,-20.19,
-3.38,-20.39, -3.65,-19.5, -3.62,-19.35, -3.23,-18.09, -3.18,-18.06, -2.73,-17.52, -2.82,-17.8
];

// ---- magenta contour (x, y) ----
const contourX = [-2.49,-2.45,-2.35,-2.22,-2.06,-1.93,-1.85,-1.82,-1.72,-1.51,-1.41,-1.31,-1.2,-1.08,-0.97,-0.79,-0.66,-0.55,-0.47,-0.31,-0.14,-0.09,-0.04,0.05,0.18,0.34,0.39,0.41,0.49,0.44,0.46,0.49,0.55,0.47,0.18,0.02,-0.09,-0.18,-0.31,-0.47,-0.63,-0.79,-0.92,-1.05,-1.25,-1.44,-1.7,-1.9,-2.09,-2.29,-2.38,-2.46,-2.49];
const contourY = [-18.05,-17.86,-17.74,-17.69,-17.64,-17.58,-17.52,-17.47,-17.47,-17.47,-17.44,-17.41,-17.39,-17.36,-17.33,-17.33,-17.31,-17.3,-17.32,-17.31,-17.3,-17.26,-17.24,-17.28,-17.28,-17.29,-17.39,-17.43,-17.37,-17.47,-17.58,-17.66,-17.75,-17.82,-17.85,-17.88,-17.93,-17.97,-17.96,-17.98,-17.98,-17.98,-17.99,-18.05,-18.09,-18.09,-18.09,-18.1,-18.12,-18.14,-18.13,-18.1,-18.05];

// ---- right panel: relative probability curve ----
const kdeX = [-4.0,-3.5,-3.1,-2.9,-2.75,-2.6,-2.45,-2.35,-2.27,-2.2,-2.13,-2.07,-2.0,-1.93,-1.86,-1.78,-1.71,-1.65,-1.59,-1.53,-1.47,-1.41,-1.35,-1.29,-1.23,-1.17,-1.12,-1.07,-1.01,-0.95,-0.89,-0.83,-0.77,-0.71,-0.65,-0.58,-0.51,-0.45,-0.39,-0.33,-0.27,-0.21,-0.15,-0.09,-0.04,0.02,0.08,0.14,0.2,0.26,0.32,0.38,0.44,0.5,0.56,0.63,0.7,0.8,0.9,1.0];
const kdeY = [0.0,0.0,0.001,0.003,0.007,0.013,0.018,0.024,0.034,0.052,0.085,0.131,0.189,0.24,0.28,0.305,0.328,0.358,0.405,0.478,0.56,0.65,0.74,0.835,0.91,0.952,0.964,0.95,0.895,0.82,0.73,0.645,0.57,0.515,0.488,0.483,0.497,0.54,0.605,0.69,0.79,0.885,0.96,1.0,0.985,0.93,0.85,0.755,0.65,0.54,0.42,0.3,0.215,0.14,0.095,0.06,0.04,0.022,0.012,0.004];

// ---- ticks ----
const leftXTicks = [-4,-3,-2,-1,0,1];
const leftYTicks = [-20,-18,-16];
const rightXTicks = [-4,-2,0];
const rightYTicks = [0,0.25,0.5,0.75,1.0];

function pairs(flat){ const out=[]; for(let i=0;i<flat.length;i+=2) out.push([flat[i],flat[i+1]]); return out; }
const scatterData = pairs(scatterTop).concat(pairs(scatterCore), pairs(scatterDense), pairs(scatterDense2), pairs(scatterBottom), pairs(scatterEdges));
const contourData = contourX.map((x,i)=>[x,contourY[i]]);
const kdeData = kdeX.map((x,i)=>[x,kdeY[i]]);

// fit the 5000x2000 drawing into whatever viewport the browser really has
const wrap = document.getElementById('wrap');
const sx = window.innerWidth / 5000, sy = window.innerHeight / 2000;
wrap.style.transform = 'scale(' + sx + ',' + sy + ')';

const FONT = 'DejaVu Sans';
const FS = 125;
const minusFmt = v => (v < 0 ? '\u2212' : '') + Math.abs(v);
const black = '#000';
const tickStyle = {show:true,length:22,lineStyle:{color:black,width:4}};

function axisBase(extra){
  return Object.assign({
    type:'value',
    splitLine:{show:false},
    axisLine:{show:true,onZero:false,lineStyle:{color:black,width:4}},
    nameLocation:'middle',
    nameTextStyle:{fontSize:FS,fontFamily:FONT,color:black,
      rich:{
        sub:{fontSize:88,fontFamily:FONT,color:black,padding:[38,0,0,0]},
        it:{fontSize:FS,fontFamily:FONT,fontStyle:'italic',color:black}
      }}
  }, extra);
}

const chart = echarts.init(document.getElementById('c'), null, {renderer:'svg', width:5000, height:2000});
chart.setOption({
  animation:false,
  backgroundColor:'#fff',
  grid:[
    {left:575, top:78, width:1897, height:1561, show:true, borderColor:black, borderWidth:4, backgroundColor:'transparent'},
    {left:3000, top:78, width:1897, height:1561, show:true, borderColor:black, borderWidth:4, backgroundColor:'transparent'}
  ],
  xAxis:[
    axisBase({gridIndex:0, min:-4, max:1, interval:1,
      axisTick:Object.assign({customValues:leftXTicks}, tickStyle),
      axisLabel:{fontSize:FS,fontFamily:FONT,color:black,margin:36,formatter:minusFmt,customValues:leftXTicks},
      name:'Log Disk gas mass [M{sub|\u2299}\u2009]', nameGap:190}),
    axisBase({gridIndex:1, min:-4.25, max:1.25,
      axisTick:Object.assign({customValues:rightXTicks}, tickStyle),
      axisLabel:{fontSize:FS,fontFamily:FONT,color:black,margin:36,formatter:minusFmt,customValues:rightXTicks},
      name:'Disk gas mass [M{sub|\u2299}\u2009]', nameGap:190})
  ],
  yAxis:[
    axisBase({gridIndex:0, min:-21.5, max:-15,
      axisTick:Object.assign({customValues:leftYTicks}, tickStyle),
      axisLabel:{fontSize:FS,fontFamily:FONT,color:black,margin:56,formatter:minusFmt,customValues:leftYTicks},
      name:'Log HD 112 {it|\u03bc}m [W/m\u00b2]', nameGap:345}),
    axisBase({gridIndex:1, min:-0.1, max:1.1,
      axisTick:Object.assign({customValues:rightYTicks}, tickStyle),
      axisLabel:{fontSize:FS,fontFamily:FONT,color:black,margin:55,formatter:v=>v.toFixed(2),customValues:rightYTicks},
      name:'Relative probability', nameGap:355})
  ],
  series:[
    {type:'scatter', xAxisIndex:0, yAxisIndex:0, data:scatterData, symbolSize:23,
     itemStyle:{color:'#808080'}, silent:true, z:2,
     markLine:{silent:true, symbol:['none','none'], label:{show:false},
       data:[
         {xAxis:vLineX, lineStyle:{color:'#ff0000',width:6,type:'solid'}},
         {yAxis:hLineY, lineStyle:{color:'#ffa500',width:5,type:'solid'}}
       ]}},
    {type:'line', xAxisIndex:0, yAxisIndex:0, data:contourData, showSymbol:false, symbol:'none',
     lineStyle:{color:'#ff00ff',width:7}, silent:true, z:5},
    {type:'line', xAxisIndex:1, yAxisIndex:1, data:kdeData, showSymbol:false, symbol:'none', smooth:0.35,
     lineStyle:{color:'#ff00ff',width:8}, silent:true, z:5}
  ]
});
</script>
</body>
</html>
